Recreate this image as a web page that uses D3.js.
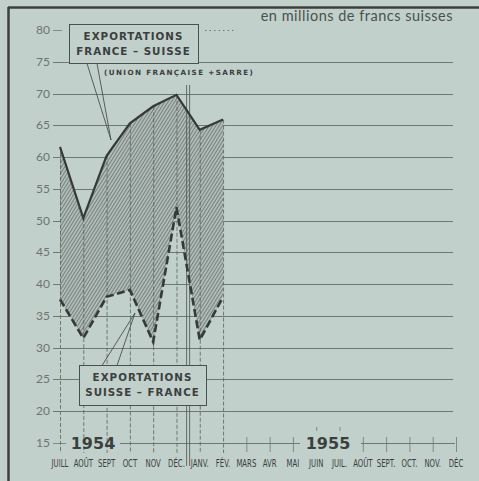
<!DOCTYPE html>
<html>
<head>
<meta charset="utf-8">
<script src="https://cdn.jsdelivr.net/npm/d3@7"></script>
<style>
  html, body { margin: 0; padding: 0; background: #c1d0ca; }
  svg { display: block; }
</style>
</head>
<body>
<div id="vis"></div>
<script>
// Exportations France-Suisse / Suisse-France, 1954-1955
const months = ["JUILL", "AOÛT", "SEPT", "OCT", "NOV", "DÉC.", "JANV.", "FÉV.", "MARS", "AVR", "MAI",
  "JUIN", "JUIL.", "AOÛT ", "SEPT.", "OCT.", "NOV.", "DÉC"];
const dataMonths = months.slice(0, 8);
const franceSuisse = [61.6, 50.4, 60.2, 65.3, 68.0, 69.8, 64.3, 65.9];
const suisseFrance = [37.6, 31.5, 38.0, 39.1, 30.9, 52.1, 31.2, 38.0];
const yTicks = [80, 75, 70, 65, 60, 55, 50, 45, 40, 35, 30, 25, 20, 15];

const width = 479, height = 481;
const bg = "#c1d0ca", ink = "#3b403f", grid = "#6e7874";

const svg = d3.select("#vis").append("svg")
  .attr("width", width).attr("height", height);

svg.append("rect").attr("width", width).attr("height", height).attr("fill", bg);

const x = d3.scalePoint().domain(months).range([60, 456]);
const y = d3.scaleLinear().domain([15, 80]).range([443, 30]);

const defs = svg.append("defs");
const pat = defs.append("pattern")
  .attr("id", "hatch")
  .attr("patternUnits", "userSpaceOnUse")
  .attr("width", 2.8).attr("height", 2.8)
  .attr("patternTransform", "rotate(32)");
pat.append("rect").attr("width", 2.8).attr("height", 2.8).attr("fill", "#aebbb6");
pat.append("line").attr("x1", 0).attr("y1", 0).attr("x2", 0).attr("y2", 2.8)
  .attr("stroke", "#454c4a").attr("stroke-width", 1);

// frame
svg.append("line").attr("x1", 8).attr("x2", width).attr("y1", 7.5).attr("y2", 7.5)
  .attr("stroke", ink).attr("stroke-width", 2.5);
svg.append("line").attr("x1", 8.5).attr("x2", 8.5).attr("y1", 7).attr("y2", height)
  .attr("stroke", ink).attr("stroke-width", 2.5);

// horizontal grid
yTicks.forEach(v => {
  const yy = Math.round(y(v)) + 0.5;
  if (v === 80) {
    svg.append("line").attr("x1", 53).attr("x2", 62).attr("y1", yy).attr("y2", yy)
      .attr("stroke", grid).attr("stroke-width", 0.8);
    svg.append("line").attr("x1", 205).attr("x2", 236).attr("y1", yy).attr("y2", yy)
      .attr("stroke", grid).attr("stroke-width", 1).attr("stroke-dasharray", "1.5,3");
  } else if (v === 15) {
    svg.append("line").attr("x1", 53).attr("x2", 66).attr("y1", yy).attr("y2", yy)
      .attr("stroke", grid).attr("stroke-width", 0.8);
    svg.append("line").attr("x1", 120).attr("x2", 300).attr("y1", yy).attr("y2", yy)
      .attr("stroke", grid).attr("stroke-width", 1);
    svg.append("line").attr("x1", 361).attr("x2", 455).attr("y1", yy).attr("y2", yy)
      .attr("stroke", grid).attr("stroke-width", 1);
  } else {
    svg.append("line").attr("x1", 53).attr("x2", 453).attr("y1", yy).attr("y2", yy)
      .attr("stroke", grid).attr("stroke-width", 1);
  }
  svg.append("text")
    .attr("x", 50).attr("y", y(v) + 4)
    .attr("text-anchor", "end")
    .attr("font-family", "Lato, 'Open Sans', sans-serif")
    .attr("font-size", 12)
    .attr("fill", "#6d7572")
    .text(v);
});

// hatched area
const area = d3.area()
  .x((d, i) => x(dataMonths[i]))
  .y0((d, i) => y(suisseFrance[i]))
  .y1((d, i) => y(franceSuisse[i]));
svg.append("path").datum(franceSuisse)
  .attr("d", area)
  .attr("fill", "url(#hatch)");

// monthly verticals for months with data
dataMonths.forEach((m, i) => {
  svg.append("line")
    .attr("x1", x(m) + 0.5).attr("x2", x(m) + 0.5)
    .attr("y1", y(franceSuisse[i])).attr("y2", 453)
    .attr("stroke", "#59625f").attr("stroke-width", 0.8)
    .attr("stroke-dasharray", "4,2");
});

// ticks for the remaining 1955 months (none under the year label)
months.slice(8).forEach(m => {
  const under = m === "JUIN" || m === "JUIL.";
  svg.append("line")
    .attr("x1", x(m) + 0.5).attr("x2", x(m) + 0.5)
    .attr("y1", under ? 427 : 437).attr("y2", under ? 431 : 452)
    .attr("stroke", grid).attr("stroke-width", 0.8);
});

// year separator
const sep = (x(months[5]) + x(months[6])) / 2;
[-1.5, 1.5].forEach(dx => {
  svg.append("line")
    .attr("x1", sep + dx).attr("x2", sep + dx)
    .attr("y1", 85).attr("y2", 466)
    .attr("stroke", "#55605c").attr("stroke-width", 0.9);
});

// lines
const lineFS = d3.line().x((d, i) => x(dataMonths[i])).y(d => y(d));
svg.append("path").datum(franceSuisse)
  .attr("d", lineFS)
  .attr("fill", "none")
  .attr("stroke", "#353a39")
  .attr("stroke-width", 2.2)
  .attr("stroke-linejoin", "miter");
svg.append("path").datum(suisseFrance)
  .attr("d", lineFS)
  .attr("fill", "none")
  .attr("stroke", "#353a39")
  .attr("stroke-width", 2.6)
  .attr("stroke-dasharray", "8,3.5");

// month labels (condensed)
svg.selectAll(".month").data(months).enter().append("text")
  .attr("class", "month")
  .attr("transform", d => `translate(${x(d)},467) scale(0.66,1)`)
  .attr("text-anchor", "middle")
  .attr("font-family", "'DejaVu Sans', sans-serif")
  .attr("font-size", 10.5)
  .attr("fill", ink)
  .text(d => d.trim());

// years
[["1954", 93], ["1955", 328]].forEach(([t, cx]) => {
  svg.append("text")
    .attr("x", cx).attr("y", 449)
    .attr("text-anchor", "middle")
    .attr("font-family", "'DejaVu Sans', sans-serif")
    .attr("font-weight", "bold")
    .attr("font-size", 16)
    .attr("fill", ink)
    .text(t);
});

// title
svg.append("text")
  .attr("x", 453).attr("y", 21)
  .attr("text-anchor", "end")
  .attr("font-family", "Lato, sans-serif")
  .attr("font-size", 14.5)
  .attr("letter-spacing", 0.5)
  .attr("fill", "#4a504e")
  .text("en millions de francs suisses");

// callout boxes
function callout(bx, by, bw, bh, lines, ptr, tip) {
  svg.append("rect")
    .attr("x", bx + 0.5).attr("y", by + 0.5).attr("width", bw).attr("height", bh)
    .attr("fill", bg).attr("stroke", "#4a504e").attr("stroke-width", 1);
  ptr.forEach(px => {
    svg.append("line")
      .attr("x1", px).attr("y1", tip[2]).attr("x2", tip[0]).attr("y2", tip[1])
      .attr("stroke", "#4a504e").attr("stroke-width", 0.9);
  });
  lines.forEach((t, i) => {
    svg.append("text")
      .attr("x", bx + bw / 2).attr("y", by + 16 + i * 15)
      .attr("text-anchor", "middle")
      .attr("font-family", "'DejaVu Sans', sans-serif")
      .attr("font-weight", "bold")
      .attr("font-size", 10.3)
      .attr("letter-spacing", 1)
      .attr("fill", ink)
      .text(t);
  });
}
callout(69, 24, 129, 39, ["EXPORTATIONS", "FRANCE – SUISSE"], [87, 97], [111, 140, 63.5]);
callout(79, 365, 127, 40, ["EXPORTATIONS", "SUISSE – FRANCE"], [102, 117], [135, 313, 365.5]);

svg.append("text")
  .attr("x", 104).attr("y", 75)
  .attr("font-family", "'DejaVu Sans', sans-serif")
  .attr("font-weight", "bold")
  .attr("font-size", 7.2)
  .attr("letter-spacing", 1.4)
  .attr("fill", ink)
  .text("(UNION FRANÇAISE +SARRE)");
</script>
</body>
</html>
